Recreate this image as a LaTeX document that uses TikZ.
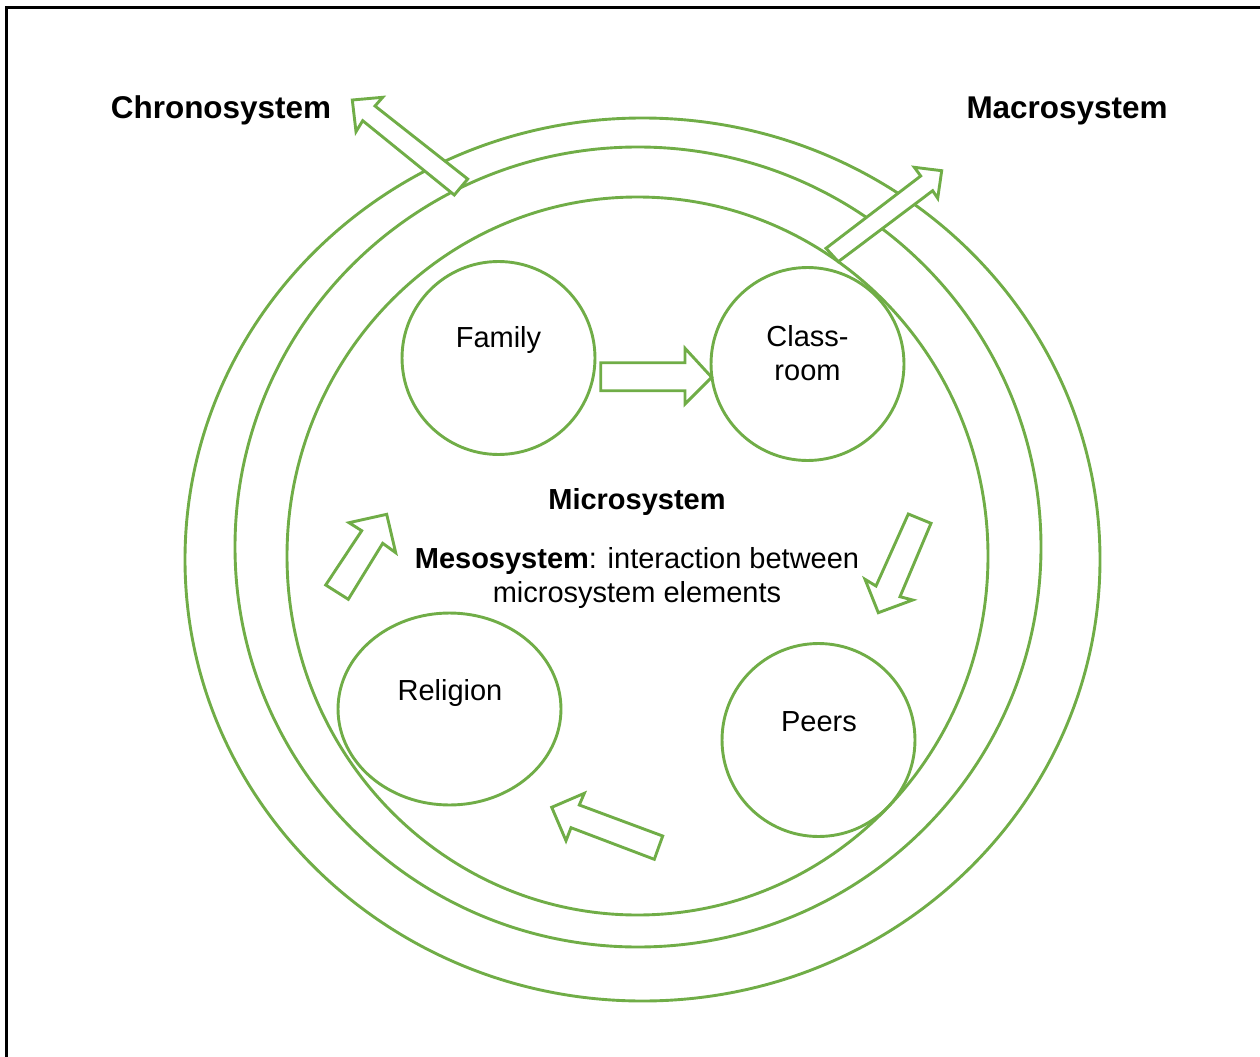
\documentclass[tikz,border=0pt]{standalone}
\usepackage{fontspec}
\setmainfont{Liberation Sans}
\usetikzlibrary{shapes.geometric}
\definecolor{grn}{HTML}{70AD47}
\begin{document}
\begin{tikzpicture}[x=0.02cm,y=-0.02cm,
  ring/.style={draw=grn,line width=1.65pt},
  blob/.style={draw=grn,line width=1.65pt,inner sep=0pt},
  blk/.style={draw=grn,fill=white,line width=1.65pt,line join=miter},
  lbl/.style={inner sep=0pt,align=center,font=\fontsize{16.5}{19.3}\selectfont},
  ttl/.style={inner sep=0pt,font=\fontsize{17.9}{21}\selectfont\bfseries}]
\useasboundingbox (0,0) rectangle (1260,1057);
% page frame (left and top edges)
\draw[line width=1.15pt] (6.5,1057) -- (6.5,7.5) -- (1260,7.5);

% nested system rings
\draw[ring] (642.5,559.5) ellipse [x radius=457.5, y radius=441.5];
\draw[ring] (638,547) ellipse [x radius=403, y radius=400];
\draw[ring] (637.5,556) ellipse [x radius=350.5, y radius=359];

% microsystem elements
\node[blob,circle,minimum size=3.86cm] (family) at (498.5,358) {};
\node[blob,circle,minimum size=3.86cm] (classroom) at (807.5,364) {};
\node[blob,ellipse,minimum width=4.46cm,minimum height=3.84cm] (religion) at (449.5,709) {};
\node[blob,circle,minimum size=3.86cm] (peers) at (818.5,740) {};

% block arrows
\draw[blk] (352.3,100) -- (382.7,97.3) -- (375,106) -- (467.7,179) -- (454.3,195)
  -- (362.7,120.7) -- (356,131.7) -- cycle;
\draw[blk] (941.7,170.7) -- (937.7,198.3) -- (932.7,190.7) -- (838.3,261.7) -- (826,248.3)
  -- (920.7,176) -- (914.3,167.3) -- cycle;
\draw[blk] (711.7,377.3) -- (685,404) -- (685,390.7) -- (600.7,390.7) -- (600.7,362.7)
  -- (685,362.7) -- (685,348.3) -- cycle;
\draw[blk] (386.7,514.3) -- (395.7,552.7) -- (382.7,543.3) -- (348.3,599.3) -- (325.7,585)
  -- (361.7,530.7) -- (349,522.7) -- cycle;
\draw[blk] (878.3,612.7) -- (865,579.3) -- (876,586) -- (908.3,514) -- (931,523.3)
  -- (900,596.7) -- (912.7,600) -- cycle;
\draw[blk] (551.7,807.3) -- (584.3,793.3) -- (579.3,805) -- (662.7,836) -- (654.3,859.3)
  -- (571,827.7) -- (566,840.7) -- cycle;

% labels (base anchor of a two-line node sits on its last line)
\node[ttl,anchor=base] (chrono) at (221,119) {Chronosystem};
\node[ttl,anchor=base] (macro) at (1067,119) {Macrosystem};
\node[lbl,anchor=base] (family-t) at (498.5,347) {Family};
\node[lbl,anchor=base] (classroom-t) at (807.5,380) {Class-\\room};
\node[lbl,anchor=base] (religion-t) at (450,700) {Religion};
\node[lbl,anchor=base] (peers-t) at (819,731) {Peers};
\node[lbl,anchor=base,font=\fontsize{16.5}{19.3}\selectfont\bfseries] (micro) at (637,509) {Microsystem};
\node[lbl,anchor=base] (meso) at (637,602) {\textbf{Mesosystem}: interaction between\\microsystem elements};
\end{tikzpicture}
\end{document}
